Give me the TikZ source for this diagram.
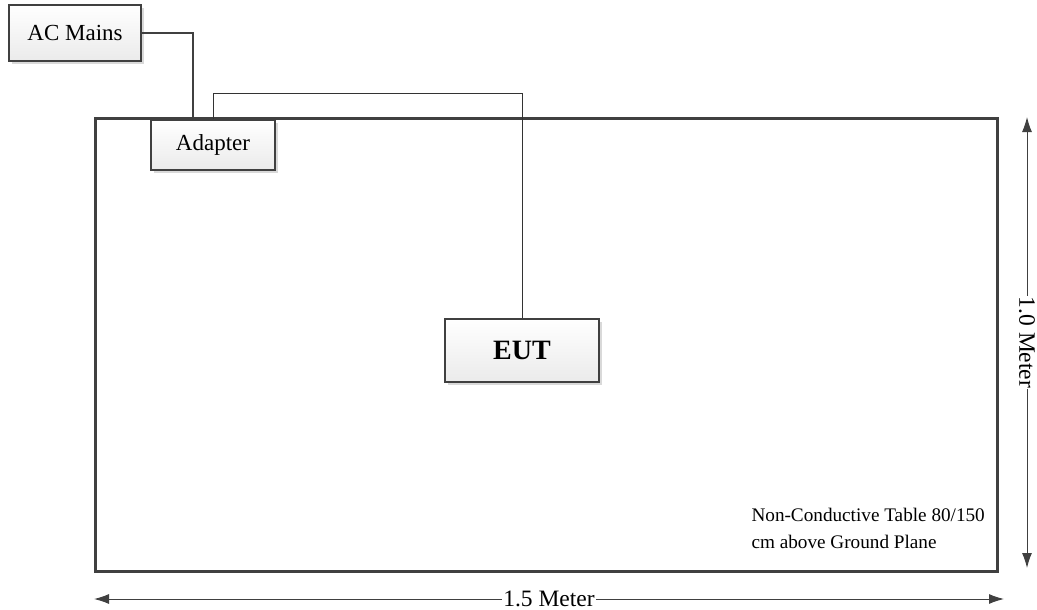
\documentclass[tikz,border=0pt]{standalone}
\usepackage{fontspec}
\setmainfont{Liberation Serif}
\usetikzlibrary{arrows.meta,shadows}

\begin{document}
\begin{tikzpicture}[x=1pt,y=-1pt]
            \tikzstyle{unit}=[draw=black!75, line width=2.5pt, top color=white, bottom color=black!8,
                              drop shadow={shadow xshift=3pt, shadow yshift=-3pt, fill=black!25, opacity=.6},
                              inner sep=0pt, font=\fontsize{23}{26}\selectfont]
            \tikzstyle{tablebox}=[draw=black!75, line width=3pt, inner sep=0pt]
            \tikzstyle{mains}=[draw=black!75, line width=2pt]
            \tikzstyle{cable}=[draw=black!80, line width=1pt]
            \tikzstyle{dim}=[draw=black!75, line width=1pt, {Latex[length=15pt,width=10pt]}-{Latex[length=15pt,width=10pt]}]
            \tikzstyle{dimlabel}=[fill=white, inner sep=1pt, font=\fontsize{23.5}{26}\selectfont]

            \useasboundingbox (0,0) rectangle (1037,610);

            % table
            \node[tablebox, minimum width=902pt, minimum height=453pt] (table) at (546,344.5) {};
            \node[anchor=west, align=left, font=\fontsize{19.2}{27}\selectfont] (tablenote) at (748,528)
                {Non-Conductive Table 80/150\\cm above Ground Plane};

            % units
            \node[unit, minimum width=132pt, minimum height=56pt] (acmains) at (75,33) {AC Mains};
            \node[unit, minimum width=124pt, minimum height=50pt] (adapter) at (213,145) {Adapter};
            \node[unit, minimum width=154pt, minimum height=63pt, font=\fontsize{28}{30}\selectfont\bfseries] (eut) at (522,350.5) {EUT};

            % cables
            \coordinate (acdrop) at (193,119);
            \draw[mains] (acmains.east) -| (acdrop);
            \draw[cable] (adapter.north) -- ++(0,-25) -| (eut.north);

            % dimensions
            \coordinate (dimtop) at (1027,117);
            \coordinate (dimbot) at (1027,568);
            \coordinate (dimleft) at (94,599);
            \coordinate (dimright) at (1004,599);
            \draw[dim] (dimtop) -- node[dimlabel, rotate=-90] (heightlabel) {1.0 Meter} (dimbot);
            \draw[dim] (dimleft) -- node[dimlabel] (widthlabel) {1.5 Meter} (dimright);
        \end{tikzpicture}
\end{document}
